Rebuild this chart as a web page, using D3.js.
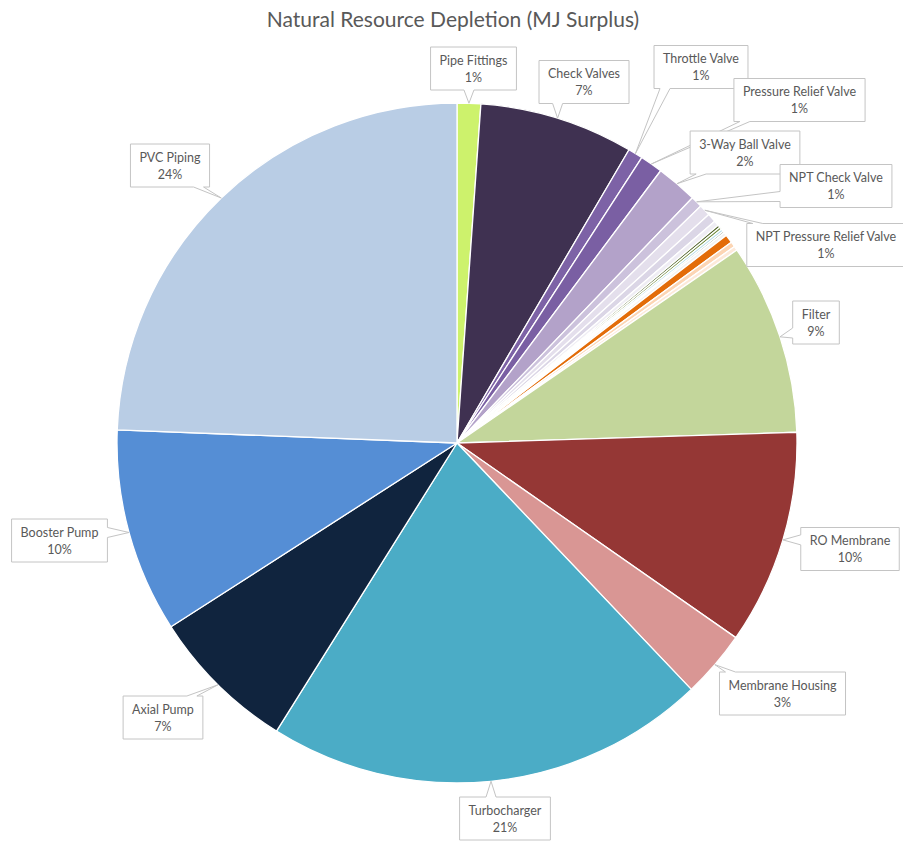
<!DOCTYPE html>
<html>
<head>
<meta charset="utf-8">
<script src="https://cdn.jsdelivr.net/npm/d3@7"></script>
<style>
  html, body { margin: 0; padding: 0; background: #fff; }
  svg { display: block; }
</style>
</head>
<body>
<svg id="chart" width="903" height="842"></svg>
<script>
// Components and their share of natural resource depletion (MJ surplus), clockwise from 12 o'clock
const categories = [
  "Pipe Fittings", "Check Valves", "Throttle Valve", "Pressure Relief Valve",
  "3-Way Ball Valve", "NPT Check Valve", "NPT Pressure Relief Valve",
  "Minor Part A", "Minor Part B", "Minor Part C", "Minor Part D", "Minor Part E",
  "Minor Part F", "Minor Part G", "Minor Part H", "Minor Part I", "Minor Part J",
  "Filter", "RO Membrane", "Membrane Housing", "Turbocharger",
  "Axial Pump", "Booster Pump", "PVC Piping"
];
const values = [
  1.12, 7.32, 0.70, 1.08,
  1.95, 0.55, 0.55,
  0.42, 0.25, 0.12, 0.12, 0.12,
  0.08, 0.16, 0.40, 0.25, 0.20,
  9.10, 10.20, 3.20, 21.00,
  7.00, 9.70, 24.38
];
// Only the named components carry a callout
const labelled = [
  true, true, true, true,
  true, true, true,
  false, false, false, false, false,
  false, false, false, false, false,
  true, true, true, true,
  true, true, true
];

// Slice colours
const colors = [
  "#cdf26c", "#3f3151", "#7d62a6", "#7a5fa3",
  "#b3a2c9", "#ccc2dc", "#e4dfec",
  "#dbd6e6", "#efedf4", "#4f6228", "#6f8a3a", "#b7dde8",
  "#9aa79a", "#f2f2f2", "#e36c09", "#fcd5b4", "#fde9d9",
  "#c3d69b", "#953735", "#d99694", "#4bacc6",
  "#10243e", "#558ed5", "#b9cde5"
];

// Callout box centres (page coordinates)
const calloutCentres = {
  "Pipe Fittings": [473.5, 68.5],
  "Check Valves": [584, 82],
  "Throttle Valve": [701, 67],
  "Pressure Relief Valve": [799.5, 100],
  "3-Way Ball Valve": [745, 152.5],
  "NPT Check Valve": [836, 186],
  "NPT Pressure Relief Valve": [826, 245],
  "Filter": [816, 322.5],
  "RO Membrane": [850, 549],
  "Membrane Housing": [782.5, 693.5],
  "Turbocharger": [505, 818.5],
  "Axial Pump": [163, 717.5],
  "Booster Pump": [59.5, 540.5],
  "PVC Piping": [170, 165.5]
};

const svg = d3.select("#chart");
const cx = 457, cy = 443, radius = 340;
const FONT = "Lato, 'Open Sans', sans-serif";
const TEXT = "#595959";

// Title
svg.append("text")
  .attr("x", 453).attr("y", 27)
  .attr("text-anchor", "middle")
  .attr("font-family", FONT)
  .attr("font-size", 21)
  .attr("fill", TEXT)
  .text("Natural Resource Depletion (MJ Surplus)");

const data = categories.map((c, i) => ({ name: c, value: values[i], color: colors[i], labelled: labelled[i] }));
const total = d3.sum(values);

const pie = d3.pie().sort(null).value(d => d.value);
const arcs = pie(data);
const arc = d3.arc().innerRadius(0).outerRadius(radius);

const g = svg.append("g").attr("transform", `translate(${cx},${cy})`);
g.selectAll("path.slice")
  .data(arcs)
  .join("path")
  .attr("class", "slice")
  .attr("d", arc)
  .attr("fill", d => d.data.color)
  .attr("stroke", "#ffffff")
  .attr("stroke-width", 1.3)
  .attr("stroke-linejoin", "round");

// Callouts: boxes with a wedge pointing at the middle of each slice's rim
const labelLayer = svg.append("g");
const pad = 9, boxH = 43, baseW = 10;

arcs.filter(d => d.data.labelled).forEach(d => {
  const name = d.data.name;
  const pct = Math.round(d.data.value / total * 100) + "%";
  const [bx, by] = calloutCentres[name];

  const grp = labelLayer.append("g");
  const t1 = grp.append("text")
    .attr("font-family", FONT).attr("font-size", 12.5).attr("fill", TEXT)
    .attr("text-anchor", "middle").attr("x", bx).attr("y", by - 4)
    .text(name);
  const w = Math.max(t1.node().getComputedTextLength(), 20) + pad * 2;
  const x0 = bx - w / 2, x1 = bx + w / 2, y0 = by - boxH / 2, y1 = by + boxH / 2;

  // wedge tip on the slice rim, at the slice's mid angle
  const a = (d.startAngle + d.endAngle) / 2;
  const tx = cx + Math.sin(a) * radius, ty = cy - Math.cos(a) * radius;

  const rx = (tx - bx) / w, ry = (ty - by) / boxH;
  const clamp = (v, lo, hi) => Math.max(lo, Math.min(hi, v));
  let p;
  if (Math.abs(ry) >= Math.abs(rx)) {
    const m = clamp(tx, x0 + 6 + baseW / 2, x1 - 6 - baseW / 2);
    if (ry > 0) {
      p = [[x0, y0], [x1, y0], [x1, y1], [m + baseW / 2, y1], [tx, ty], [m - baseW / 2, y1], [x0, y1]];
    } else {
      p = [[x0, y0], [m - baseW / 2, y0], [tx, ty], [m + baseW / 2, y0], [x1, y0], [x1, y1], [x0, y1]];
    }
  } else {
    const m = clamp(ty, y0 + 6 + baseW / 2, y1 - 6 - baseW / 2);
    if (rx > 0) {
      p = [[x0, y0], [x1, y0], [x1, m - baseW / 2], [tx, ty], [x1, m + baseW / 2], [x1, y1], [x0, y1]];
    } else {
      p = [[x0, y0], [x1, y0], [x1, y1], [x0, y1], [x0, m + baseW / 2], [tx, ty], [x0, m - baseW / 2]];
    }
  }
  grp.insert("path", "text")
    .attr("d", d3.line()(p) + "Z")
    .attr("fill", "#ffffff")
    .attr("stroke", "#c4c4c4")
    .attr("stroke-width", 1);

  grp.append("text")
    .attr("font-family", FONT).attr("font-size", 12.5).attr("fill", TEXT)
    .attr("text-anchor", "middle").attr("x", bx).attr("y", by + 13)
    .text(pct);
});
</script>
</body>
</html>
